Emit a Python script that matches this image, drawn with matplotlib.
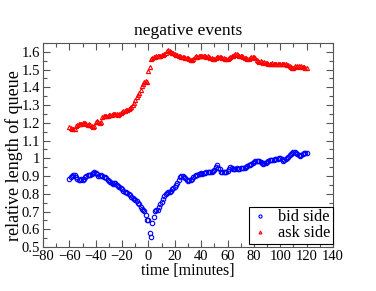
import matplotlib
matplotlib.use('Agg')
import matplotlib.pyplot as plt
from matplotlib.ticker import MultipleLocator

plt.rcParams['font.family'] = ['Liberation Serif', 'DejaVu Serif']

# time in minutes, one point per minute
t = list(range(-60, 121))

ask = [1.179, 1.172, 1.166, 1.164, 1.168, 1.180, 1.186, 1.192, 1.196, 1.194,
       1.199, 1.201, 1.197, 1.193, 1.189, 1.191, 1.186, 1.180, 1.176, 1.184,
       1.205, 1.210, 1.202, 1.199, 1.206, 1.232, 1.236, 1.237, 1.239, 1.241,
       1.244, 1.246, 1.243, 1.249, 1.251, 1.252, 1.248, 1.246, 1.249, 1.255,
       1.260, 1.265, 1.268, 1.272, 1.274, 1.276, 1.282, 1.292, 1.300, 1.312,
       1.330, 1.345, 1.356, 1.366, 1.384, 1.406, 1.420, 1.430, 1.433, 1.431,
       1.492, 1.517, 1.560, 1.566, 1.572, 1.570, 1.575, 1.577, 1.574, 1.579,
       1.582, 1.584, 1.590, 1.594, 1.603, 1.610, 1.606, 1.600, 1.596, 1.591,
       1.587, 1.584, 1.580, 1.577, 1.575, 1.573, 1.571, 1.569, 1.567, 1.565,
       1.563, 1.559, 1.556, 1.553, 1.562, 1.570, 1.574, 1.572, 1.576, 1.579,
       1.577, 1.575, 1.578, 1.576, 1.573, 1.574, 1.570, 1.566, 1.563, 1.560,
       1.561, 1.566, 1.570, 1.572, 1.569, 1.571, 1.566, 1.563, 1.560, 1.562,
       1.560, 1.565, 1.570, 1.575, 1.578, 1.582, 1.586, 1.588, 1.583, 1.579,
       1.576, 1.574, 1.572, 1.568, 1.563, 1.560, 1.562, 1.567, 1.571, 1.573,
       1.571, 1.565, 1.556, 1.548, 1.545, 1.547, 1.543, 1.540, 1.541, 1.538,
       1.535, 1.532, 1.531, 1.534, 1.536, 1.533, 1.530, 1.532, 1.531, 1.529,
       1.530, 1.531, 1.529, 1.530, 1.530, 1.527, 1.524, 1.518, 1.514, 1.510,
       1.508, 1.520, 1.514, 1.521, 1.518, 1.516, 1.519, 1.514, 1.512, 1.510,
       1.508]

bid = [0.882, 0.894, 0.900, 0.904, 0.906, 0.892, 0.882, 0.880, 0.878, 0.881,
       0.880, 0.886, 0.896, 0.902, 0.906, 0.908, 0.905, 0.912, 0.918, 0.925,
       0.915, 0.910, 0.902, 0.900, 0.904, 0.900, 0.896, 0.892, 0.888, 0.880,
       0.874, 0.868, 0.860, 0.857, 0.862, 0.860, 0.852, 0.846, 0.840, 0.834,
       0.825, 0.818, 0.812, 0.810, 0.804, 0.800, 0.792, 0.784, 0.776, 0.770,
       0.765, 0.758, 0.750, 0.742, 0.727, 0.715, 0.708, 0.705, 0.680, 0.652,
       0.652, 0.580, 0.558, 0.637, 0.670, 0.705, 0.706, 0.708, 0.727, 0.740,
       0.755, 0.770, 0.785, 0.796, 0.806, 0.808, 0.810, 0.818, 0.825, 0.832,
       0.840, 0.850, 0.860, 0.876, 0.893, 0.900, 0.902, 0.896, 0.887, 0.880,
       0.874, 0.878, 0.880, 0.886, 0.895, 0.900, 0.904, 0.908, 0.910, 0.912,
       0.915, 0.913, 0.916, 0.918, 0.920, 0.920, 0.922, 0.925, 0.925, 0.930,
       0.934, 0.950, 0.962, 0.948, 0.938, 0.925, 0.920, 0.920, 0.922, 0.925,
       0.930, 0.940, 0.953, 0.945, 0.940, 0.938, 0.942, 0.944, 0.940, 0.942,
       0.944, 0.946, 0.944, 0.944, 0.950, 0.957, 0.960, 0.964, 0.968, 0.975,
       0.980, 0.982, 0.984, 0.986, 0.987, 0.980, 0.975, 0.968, 0.972, 0.976,
       0.980, 0.985, 0.988, 0.990, 0.992, 0.993, 0.994, 0.996, 0.998, 0.999,
       1.000, 0.995, 0.987, 0.990, 0.995, 1.000, 1.008, 1.016, 1.024, 1.030,
       1.037, 1.034, 1.028, 1.024, 1.018, 1.013, 1.018, 1.024, 1.028, 1.030,
       1.032]

fig = plt.figure(figsize=(3.76, 2.91), dpi=100)
ax = fig.add_axes([43/376, 44/291, 290/376, 204/291])

ax.plot(t, bid, linestyle='none', marker='o', markersize=3.2, markerfacecolor='none',
        markeredgecolor='#0000ff', markeredgewidth=0.8, label='bid side')
ax.plot(t, ask, linestyle='none', marker='^', markersize=3.0, markerfacecolor='none',
        markeredgecolor='#ff0000', markeredgewidth=0.8, label='ask side')

ax.set_xlim(-80, 140)
ax.set_ylim(0.5, 1.65)
ax.xaxis.set_major_locator(MultipleLocator(20))
ax.xaxis.set_minor_locator(MultipleLocator(10))
ax.yaxis.set_minor_locator(MultipleLocator(0.05))
ax.set_yticks([0.5, 0.6, 0.7, 0.8, 0.9, 1.0, 1.1, 1.2, 1.3, 1.4, 1.5, 1.6])
ax.set_yticklabels(['0.5', '0.6', '0.7', '0.8', '0.9', '1', '1.1', '1.2', '1.3', '1.4', '1.5', '1.6'])
ax.tick_params(which='both', direction='in', top=True, right=True, labelsize=10.5, pad=2)
ax.tick_params(which='major', length=5, width=0.8, color='#555555')
ax.tick_params(which='minor', length=3, width=0.8, color='#555555')
for s in ax.spines.values():
    s.set_linewidth(0.8)
    s.set_color('#555555')

ax.set_xlabel('time [minutes]', fontsize=11.5, labelpad=0)
ax.set_ylabel('relative length of queue', fontsize=13)
ax.yaxis.set_label_coords(-0.07, 0.45)
ax.set_title('negative events', fontsize=12.5, pad=6)

leg = ax.legend(loc='lower right', bbox_to_anchor=(1.0, 0.015), numpoints=1,
                fontsize=11.8, fancybox=False, framealpha=1, edgecolor='black',
                borderpad=0.15, handlelength=1.0, handletextpad=0.6,
                labelspacing=0.0, borderaxespad=0, markerscale=0.7)
leg.get_frame().set_linewidth(0.8)

fig.savefig('out.png', dpi=100)
